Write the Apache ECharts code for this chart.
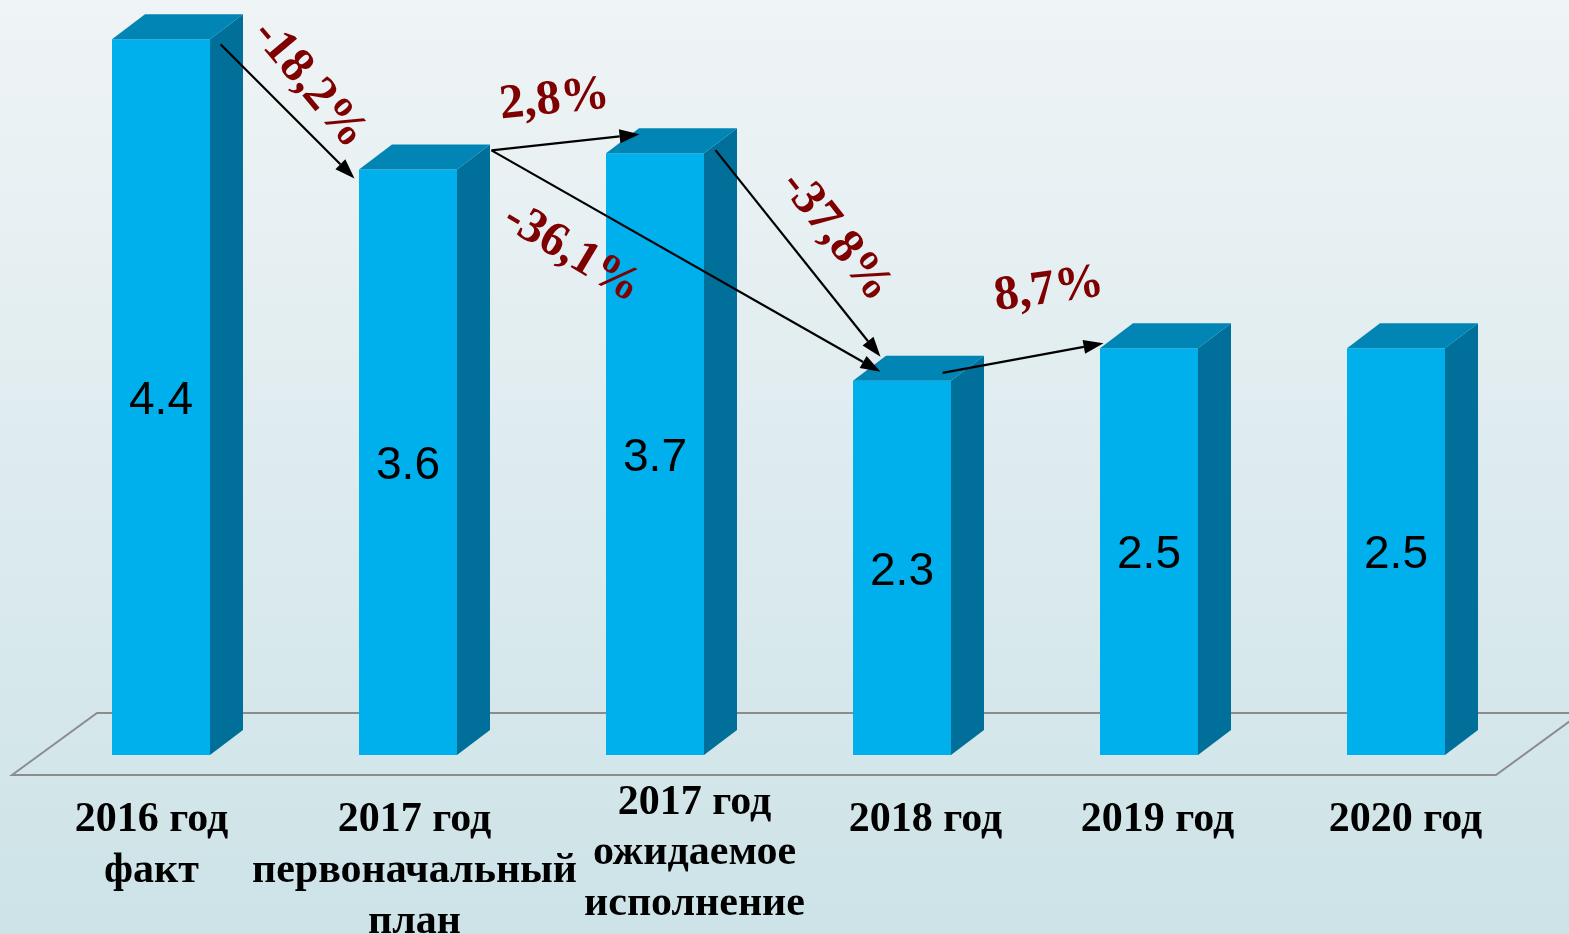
<!DOCTYPE html>
<html>
<head>
<meta charset="utf-8">
<style>
  html, body { margin: 0; padding: 0; }
  #chart { width: 1569px; height: 934px; }
</style>
<script src="https://cdn.jsdelivr.net/npm/echarts@6/dist/echarts.min.js"></script>
</head>
<body>
<div id="chart"></div>
<script>
const categories = [
  "2016 год\nфакт",
  "2017 год\nпервоначальный\nплан",
  "2017 год\nожидаемое\nисполнение",
  "2018 год",
  "2019 год",
  "2020 год",
];
const values = [4.4, 3.6, 3.7, 2.3, 2.5, 2.5];

const arrowFrom = [0, 1, 1, 2, 3];
const arrowTo = [1, 2, 3, 3, 4];
const arrowLabels = ["-18,2%", "2,8%", "-36,1%", "-37,8%", "8,7%"];

// pixel offsets of arrow ends from the bar tops, and of each label from the arrow middle
const arrowLayout = [
  { s: [43, 5], e: [-70, 9], t: [22, -27], rot: 50 },
  { s: [67, -19], e: [-32, -19], t: [-11, -42], rot: -6 },
  { s: [67, -19], e: [-38, -9], t: [-114, -8], rot: 31 },
  { s: [44, -3], e: [-38, -24], t: [38, -17], rot: 52 },
  { s: [24, -8], e: [-62, -5], t: [26, -68], rot: -8 },
];
const labelShift = [-26, -10, 23, 7, -8, -7];
// the third label sits a little higher than the others
const lineHeights = [[51, 51, 51], [51, 51, 51], [16, 84, 18], [51], [51], [51]];

const FRONT = "#00b0ec";
const SIDE = "#006f9a";
const TOP = "#0085b5";
const FW = 98, DX = 33, DY = 25;

const rich = {};
labelShift.forEach((d, i) => {
  lineHeights[i].forEach((lh, j) => {
    rich["s" + i + "_" + j] = {
      fontFamily: '"Liberation Serif", "Times New Roman", serif',
      fontWeight: "bold",
      fontSize: 42,
      lineHeight: lh,
      color: "#000",
      padding: d < 0 ? [0, -2 * d, 0, 0] : [0, 0, 0, 2 * d],
    };
  });
});

function renderBar(params, api) {
  const top = api.coord([api.value(0), api.value(1)]);
  const base = api.coord([api.value(0), 0]);
  const left = top[0] - 65.5;
  const right = left + FW;
  const yt = top[1], yb = base[1];
  return {
    type: "group",
    children: [
      { type: "rect", shape: { x: left, y: yt, width: FW, height: yb - yt }, style: { fill: FRONT } },
      { type: "polygon", shape: { points: [[right, yt], [right + DX, yt - DY], [right + DX, yb - DY], [right, yb]] }, style: { fill: SIDE } },
      { type: "polygon", shape: { points: [[left, yt], [left + DX, yt - DY], [right + DX, yt - DY], [right, yt]] }, style: { fill: TOP } },
      {
        type: "text",
        x: left + FW / 2,
        y: (yt + yb) / 2 + 4,
        style: { text: String(api.value(1)), fill: "#000", font: '46px "Liberation Sans", Arial, sans-serif', align: "center", verticalAlign: "middle" },
      },
    ],
  };
}

function renderFloor(params, api) {
  const cs = params.coordSys;
  const y0 = api.coord([0, 0])[1];
  const front = y0 + 20, back = y0 - 42;
  const lf = cs.x - 42, rf = cs.x + cs.width - 40;
  return {
    type: "polygon",
    shape: { points: [[lf, front], [lf + 85, back], [rf + 85, back], [rf, front]] },
    style: { fill: "none", stroke: "#8c8c8c", lineWidth: 2 },
  };
}

function renderArrow(params, api) {
  const lay = arrowLayout[params.dataIndex];
  const a = api.coord([api.value(0), api.value(1)]);
  const b = api.coord([api.value(2), api.value(3)]);
  const s = [a[0] + lay.s[0], a[1] + lay.s[1]];
  const e = [b[0] + lay.e[0], b[1] + lay.e[1]];
  const len = Math.hypot(e[0] - s[0], e[1] - s[1]);
  const ux = (e[0] - s[0]) / len, uy = (e[1] - s[1]) / len;
  const hl = 20, hw = 7;
  const bx = e[0] - ux * hl, by = e[1] - uy * hl;
  const mid = [(s[0] + e[0]) / 2, (s[1] + e[1]) / 2];
  return {
    type: "group",
    children: [
      { type: "line", shape: { x1: s[0], y1: s[1], x2: bx, y2: by }, style: { stroke: "#000", lineWidth: 2.2 } },
      { type: "polygon", shape: { points: [e, [bx - uy * hw, by + ux * hw], [bx + uy * hw, by - ux * hw]] }, style: { fill: "#000" } },
      {
        type: "text",
        x: mid[0] + lay.t[0],
        y: mid[1] + lay.t[1],
        rotation: -lay.rot * Math.PI / 180,
        style: { text: arrowLabels[params.dataIndex], fill: "#7f0000", font: 'bold 49px "Liberation Serif", "Times New Roman", serif', align: "center", verticalAlign: "middle" },
      },
    ],
  };
}

const chart = echarts.init(document.getElementById("chart"));
chart.setOption({
  animation: false,
  backgroundColor: new echarts.graphic.LinearGradient(0, 0, 0, 1, [
    { offset: 0, color: "#eff4f6" },
    { offset: 1, color: "#cde3e7" },
  ]),
  grid: { left: 54, width: 1482, top: 23, height: 732, containLabel: false, outerBoundsMode: "none" },
  xAxis: {
    type: "category",
    data: categories,
    axisLine: { show: false },
    axisTick: { show: false },
    axisLabel: {
      interval: 0,
      margin: 40,
      verticalAlign: "top",
      hideOverlap: false,
      formatter: (value, index) => value.split("\n").map((line, j) => `{s${index}_${j}|${line}}`).join("\n"),
      rich,
    },
  },
  yAxis: { type: "value", min: 0, max: 4.5, show: false },
  series: [
    { type: "custom", z: 1, data: [[0]], renderItem: renderFloor, silent: true },
    { type: "custom", z: 2, data: values.map((v, i) => [i, v]), renderItem: renderBar },
    { type: "custom", z: 3, data: arrowFrom.map((f, i) => [f, values[f], arrowTo[i], values[arrowTo[i]]]), renderItem: renderArrow },
  ],
});
</script>
</body>
</html>
